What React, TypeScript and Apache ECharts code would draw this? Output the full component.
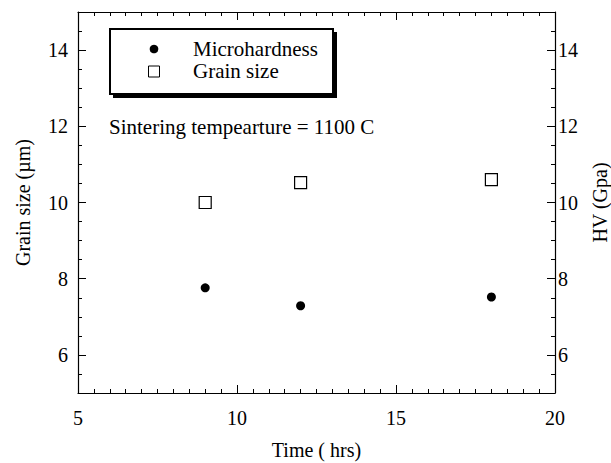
import React, { useEffect, useRef } from "react";
import * as echarts from "echarts";

const timeHrs = [9, 12, 18];
const grainSize = [10.0, 10.52, 10.6];
const microhardness = [7.76, 7.29, 7.52];
const yLabelValues = [6, 8, 10, 12, 14];
const yMajorTicks = [6, 8, 10, 12, 14];
const legendNames = ["Microhardness", "Grain size"];
const annotation = "Sintering tempearture = 1100 C";

const FONT = "Liberation Serif, serif";

export default function App() {
  const ref = useRef<HTMLDivElement>(null);
  useEffect(() => {
    if (!ref.current) return;
    const chart = echarts.init(ref.current, null, { renderer: "svg" });
    const axisLine = { show: true, lineStyle: { color: "#000", width: 1.2 } };
    const labelStyle = { color: "#000", fontSize: 20, fontFamily: FONT };
    const yBase = (position: string) => ({
      type: "value",
      position,
      min: 5,
      max: 15,
      interval: 0.5,
      axisLine,
      axisTick: { show: true, inside: true, length: 4, lineStyle: { color: "#000" } },
      splitLine: { show: false },
    });
    const yMajor = (position: string) => ({
      type: "value",
      position,
      min: 5,
      max: 15,
      interval: 0.5,
      axisLine: { show: false },
      axisLabel: { show: false },
      axisTick: { show: true, inside: true, length: 8, customValues: yMajorTicks, lineStyle: { color: "#000" } },
      splitLine: { show: false },
    });
    const xBase = (position: string, labels: boolean) => ({
      type: "value",
      position,
      min: 5,
      max: 20,
      interval: 5,
      axisLine,
      axisTick: { show: true, inside: true, length: 8, lineStyle: { color: "#000" } },
      minorTick: { show: true, splitNumber: 10, length: 4, lineStyle: { color: "#000" } },
      axisLabel: { show: labels, color: "#000", fontSize: 20, fontFamily: FONT, margin: 15 },
      splitLine: { show: false },
      minorSplitLine: { show: false },
    });
    chart.setOption({
      animation: false,
      backgroundColor: "#fff",
      textStyle: { fontFamily: FONT, color: "#000", fontSize: 20 },
      grid: { left: 78, right: 56, top: 12, bottom: 70, containLabel: false, outerBoundsMode: "none" },
      xAxis: [
        { ...xBase("bottom", true), name: "Time ( hrs)", nameLocation: "middle", nameGap: 47, nameTextStyle: labelStyle },
        xBase("top", false),
      ],
      yAxis: [
        {
          ...yBase("left"),
          axisLabel: { color: "#000", fontSize: 20, fontFamily: FONT, margin: 10, customValues: yLabelValues },
          name: "Grain size (µm)",
          nameLocation: "middle",
          nameRotate: 90,
          nameGap: 45,
          nameTextStyle: labelStyle,
        },
        {
          ...yBase("right"),
          axisLabel: { color: "#000", fontSize: 20, fontFamily: FONT, margin: 3, customValues: yLabelValues },
          name: "HV (Gpa)",
          nameLocation: "middle",
          nameRotate: 90,
          nameGap: 35,
          nameTextStyle: labelStyle,
        },
        yMajor("left"),
        yMajor("right"),
      ],
      series: [
        {
          name: legendNames[1],
          type: "scatter",
          xAxisIndex: 0,
          yAxisIndex: 0,
          symbol: "rect",
          symbolSize: 12,
          itemStyle: { color: "#fff", borderColor: "#000", borderWidth: 1.2, opacity: 1 },
          data: timeHrs.map((t, i) => [t, grainSize[i]]),
        },
        {
          name: legendNames[0],
          type: "scatter",
          xAxisIndex: 0,
          yAxisIndex: 1,
          symbol: "circle",
          symbolSize: 9,
          itemStyle: { color: "#000", opacity: 1 },
          data: timeHrs.map((t, i) => [t, microhardness[i]]),
        },
      ],
      graphic: [
        { type: "rect", shape: { x: 113, y: 32, width: 224, height: 66 }, style: { fill: "#000" }, z: 10 },
        { type: "rect", shape: { x: 110, y: 29, width: 223, height: 65 }, style: { fill: "#fff", stroke: "#000", lineWidth: 2 }, z: 11 },
        { type: "circle", shape: { cx: 154, cy: 49, r: 4.3 }, style: { fill: "#000" }, z: 12 },
        { type: "rect", shape: { x: 148.5, y: 66, width: 11, height: 11 }, style: { fill: "#fff", stroke: "#000", lineWidth: 1 }, z: 12 },
        { type: "text", x: 193, y: 49, style: { text: legendNames[0], fill: "#000", font: `21px ${FONT}`, verticalAlign: "middle" }, z: 12 },
        { type: "text", x: 193, y: 71, style: { text: legendNames[1], fill: "#000", font: `21px ${FONT}`, verticalAlign: "middle" }, z: 12 },
        { type: "text", x: 109, y: 127, style: { text: annotation, fill: "#000", font: `21px ${FONT}`, verticalAlign: "middle" }, z: 12 },
      ],
    });
    return () => chart.dispose();
  }, []);
  return <div ref={ref} style={{ position: "fixed", left: 0, top: 0, width: 611, height: 463 }} />;
}
